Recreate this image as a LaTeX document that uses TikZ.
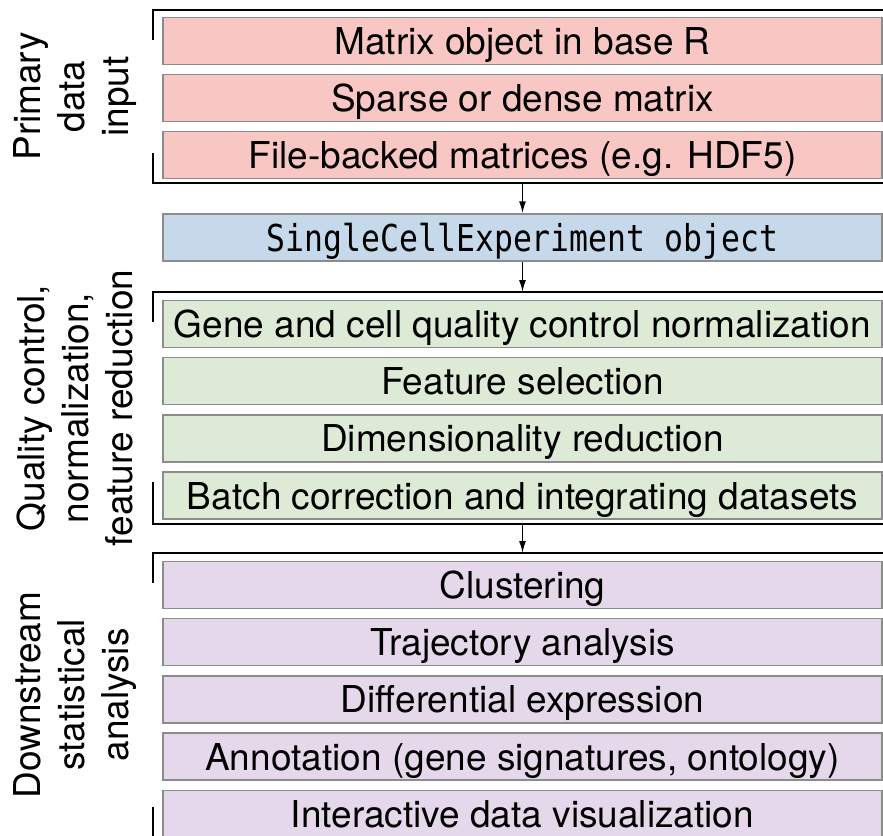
\documentclass[tikz,border=0pt]{standalone}
\usepackage{fontspec}
\setmainfont{TeX Gyre Heros}
\newfontfamily\codefont[FakeStretch=0.85]{DejaVu Sans Mono}
\usepackage{tikz}
\usetikzlibrary{arrows.meta, positioning}
\definecolor{inred}{RGB}{248,199,195}
\definecolor{sceblue}{RGB}{198,217,235}
\definecolor{qcgreen}{RGB}{221,235,214}
\definecolor{dspurple}{RGB}{229,216,234}
\definecolor{boxgrey}{RGB}{140,140,140}
\tikzset{
  stepbox/.style={rectangle, draw=boxgrey, line width=1.5pt,
    minimum width=719pt, minimum height=47pt, inner sep=0pt,
    text height=27pt, text depth=0pt, font=\fontsize{37}{40}\selectfont},
  redbox/.style={stepbox, fill=inred},
  bluebox/.style={stepbox, fill=sceblue},
  greenbox/.style={stepbox, fill=qcgreen},
  purplebox/.style={stepbox, fill=dspurple},
  grouplabel/.style={rotate=90, align=center, inner sep=0pt,
    font=\fontsize{37}{44}\selectfont},
  bracket/.style={line width=2.5pt, color=black},
  arrow/.style={-{Latex[length=12pt,width=7pt]}, line width=1.5pt, color=black}
}
\begin{document}
\begin{tikzpicture}[x=1pt, y=-1pt]
  \useasboundingbox (0,0) rectangle (883,835);

  % Primary data input
  \node[redbox] (in1) at (522.5,41) {Matrix object in base R};
  \node[redbox, below=8.5pt of in1] (in2) {Sparse or dense matrix};
  \node[redbox, below=8.5pt of in2] (in3) {File-backed matrices (e.g. HDF5)};
  \draw[bracket] (890,10) -- (153,10) -- (153,40);
  \draw[bracket] (153,153) -- (153,183) -- (890,183);
  \node[grouplabel] (lab1) at (75,96.5) {Primary\\data\\input};

  % SCE container
  \node[bluebox] (sce) at (522.5,237.5) {\codefont SingleCellExperiment object};

  % Quality control, normalization, feature reduction
  \node[greenbox] (qc1) at (522.5,324) {Gene and cell quality control normalization};
  \node[greenbox, below=8.7pt of qc1] (qc2) {Feature selection};
  \node[greenbox, below=8.7pt of qc2] (qc3) {Dimensionality reduction};
  \node[greenbox, below=8.7pt of qc3] (qc4) {Batch correction and integrating datasets};
  \draw[bracket] (890,292) -- (153,292) -- (153,322);
  \draw[bracket] (153,482) -- (153,524) -- (890,524);
  \node[grouplabel] (lab2) at (75,408) {Quality control,\\normalization,\\feature reduction};

  % Downstream statistical analysis
  \node[purplebox] (ds1) at (522.5,585) {Clustering};
  \node[purplebox, below=8.7pt of ds1] (ds2) {Trajectory analysis};
  \node[purplebox, below=8.7pt of ds2] (ds3) {Differential expression};
  \node[purplebox, below=8.7pt of ds3] (ds4) {Annotation (gene signatures, ontology)};
  \node[purplebox, below=8.7pt of ds4] (ds5) {Interactive data visualization};
  \draw[bracket] (890,553) -- (153,553) -- (153,583);
  \draw[bracket] (153,807) -- (153,837) -- (890,837);
  \node[grouplabel] (lab3) at (75,695) {Downstream\\statistical\\analysis};

  % Flow arrows
  \coordinate (inbot) at (522.5,183);
  \coordinate (qctop) at (522.5,292);
  \coordinate (qcbot) at (522.5,524);
  \coordinate (dstop) at (522.5,553);
  \draw[arrow] (inbot) -- (sce);
  \draw[arrow] (sce) -- (qctop);
  \draw[arrow] (qcbot) -- (dstop);
\end{tikzpicture}
\end{document}
